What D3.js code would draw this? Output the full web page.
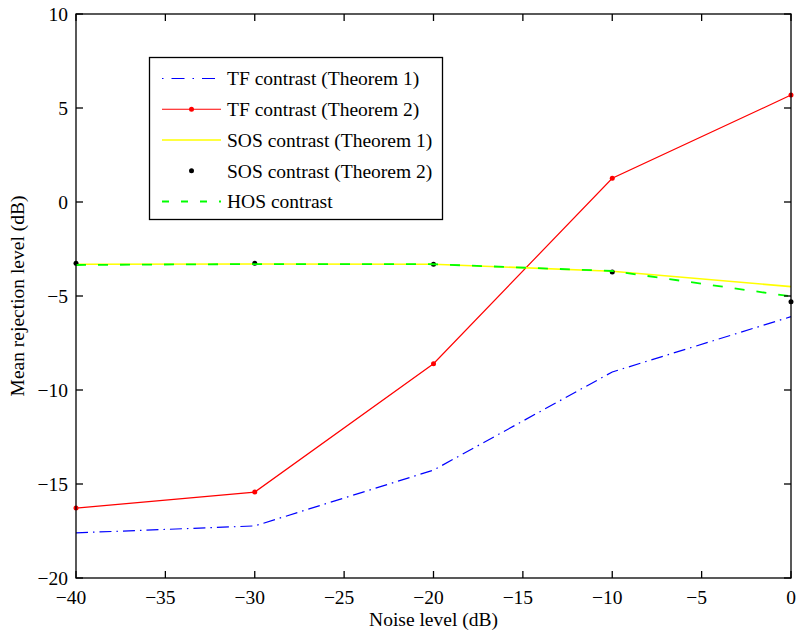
<!DOCTYPE html>
<html>
<head>
<meta charset="utf-8">
<script src="https://cdn.jsdelivr.net/npm/d3@7"></script>
<style>
  body { margin: 0; background: #fff; }
  text { font-family: "Liberation Serif", "Times New Roman", serif; fill: #000; }
</style>
</head>
<body>
<div id="container"></div>
<script>
/* CONSTANTS AND GLOBALS */
const width = 797;
const height = 640;
const margin = { left: 76, right: 6, top: 14, bottom: 62 };
const fontSize = 19.5;

/* DATA */
const noiseLevels = [-40, -30, -20, -10, 0];
const tfTheorem1 = [-17.6, -17.23, -14.26, -9.04, -6.1];
const tfTheorem2 = [-16.28, -15.43, -8.6, 1.26, 5.69];
const sosTheorem1 = [-3.31, -3.3, -3.31, -3.68, -4.5];
const sosTheorem2 = [-3.26, -3.26, -3.31, -3.72, -5.3];
const hosContrast = [-3.35, -3.3, -3.31, -3.67, -5.02];

const xTicks = [-40, -35, -30, -25, -20, -15, -10, -5, 0];
const yTicks = [-20, -15, -10, -5, 0, 5, 10];
const legendLabels = ["TF contrast (Theorem 1)", "TF contrast (Theorem 2)", "SOS contrast (Theorem 1)", "SOS contrast (Theorem 2)", "HOS contrast"];

const fmt = d => d < 0 ? "\u2212" + Math.abs(d) : String(d);

/* SCALES */
const xScale = d3.scaleLinear()
  .domain([-40, 0])
  .range([margin.left, width - margin.right]);

const yScale = d3.scaleLinear()
  .domain([-20, 10])
  .range([height - margin.bottom, margin.top]);

/* SVG */
const svg = d3.select("#container")
  .append("svg")
  .attr("width", width)
  .attr("height", height);

// series definitions (styles)
const series = [
  { values: tfTheorem1, color: "#0000ff", dash: "12,5,1.5,5", width: 1.2, line: true, dots: false },
  { values: tfTheorem2, color: "#ff0000", dash: null, width: 1.2, line: true, dots: true },
  { values: sosTheorem1, color: "#ffff00", dash: null, width: 1.6, line: true, dots: false },
  { values: sosTheorem2, color: "#000000", dash: null, width: 0, line: false, dots: true },
  { values: hosContrast, color: "#00ff00", dash: "10,12", width: 1.8, line: true, dots: false }
];

const lineGen = d3.line()
  .x(d => xScale(d[0]))
  .y(d => yScale(d[1]));

series.forEach(s => {
  const pts = noiseLevels.map((x, i) => [x, s.values[i]]);
  if (s.line) {
    svg.append("path")
      .datum(pts)
      .attr("d", lineGen)
      .attr("fill", "none")
      .attr("stroke", s.color)
      .attr("stroke-width", s.width)
      .attr("stroke-dasharray", s.dash);
  }
  if (s.dots) {
    svg.selectAll(null)
      .data(pts)
      .join("circle")
      .attr("cx", d => xScale(d[0]))
      .attr("cy", d => yScale(d[1]))
      .attr("r", 2.5)
      .attr("fill", s.color);
  }
});

/* AXES (box with inward ticks) */
const x0 = xScale.range()[0], x1 = xScale.range()[1];
const y0 = yScale.range()[0], y1 = yScale.range()[1];
const tickLen = 7;

const axes = svg.append("g").attr("stroke", "#000").attr("stroke-width", 1.3);
axes.append("rect")
  .attr("x", x0).attr("y", y1)
  .attr("width", x1 - x0).attr("height", y0 - y1)
  .attr("fill", "none");

xTicks.forEach(t => {
  axes.append("line").attr("x1", xScale(t)).attr("x2", xScale(t)).attr("y1", y0).attr("y2", y0 - tickLen);
  axes.append("line").attr("x1", xScale(t)).attr("x2", xScale(t)).attr("y1", y1).attr("y2", y1 + tickLen);
});
yTicks.forEach(t => {
  axes.append("line").attr("x1", x0).attr("x2", x0 + tickLen).attr("y1", yScale(t)).attr("y2", yScale(t));
  axes.append("line").attr("x1", x1).attr("x2", x1 - tickLen).attr("y1", yScale(t)).attr("y2", yScale(t));
});

// tick labels
svg.selectAll(".xlabel")
  .data(xTicks)
  .join("text")
  .attr("class", "xlabel")
  .attr("x", d => xScale(d) + (d < 0 ? -5 : 0))
  .attr("y", y0 + 26)
  .attr("text-anchor", "middle")
  .style("font-size", fontSize + "px")
  .text(fmt);

svg.selectAll(".ylabel")
  .data(yTicks)
  .join("text")
  .attr("class", "ylabel")
  .attr("x", x0 - 8)
  .attr("y", d => yScale(d))
  .attr("dy", "0.35em")
  .attr("text-anchor", "end")
  .style("font-size", fontSize + "px")
  .text(fmt);

// axis titles
svg.append("text")
  .attr("x", (x0 + x1) / 2)
  .attr("y", 626)
  .attr("text-anchor", "middle")
  .style("font-size", fontSize + "px")
  .text("Noise level (dB)");

svg.append("text")
  .attr("transform", `translate(24, ${(y0 + y1) / 2}) rotate(-90)`)
  .attr("text-anchor", "middle")
  .style("font-size", fontSize + "px")
  .text("Mean rejection level (dB)");

/* LEGEND */
const legend = svg.append("g");
legend.append("rect")
  .attr("x", 149.5).attr("y", 57.5)
  .attr("width", 293).attr("height", 162)
  .attr("fill", "#fff")
  .attr("stroke", "#000")
  .attr("stroke-width", 1.3);

const rowY = d3.scaleLinear().domain([0, 4]).range([78.5, 201.5]);

series.forEach((s, i) => {
  const y = rowY(i);
  if (s.line) {
    legend.append("line")
      .attr("x1", 162).attr("x2", 221)
      .attr("y1", y).attr("y2", y)
      .attr("stroke", s.color)
      .attr("stroke-width", s.width)
      .attr("stroke-dasharray", s.dash ? (i === 0 ? "1.5,8,13,8" : "7,12") : null);
  }
  if (s.dots) {
    legend.append("circle")
      .attr("cx", 191.5).attr("cy", y)
      .attr("r", 2.5)
      .attr("fill", s.color);
  }
  legend.append("text")
    .attr("x", 227)
    .attr("y", y)
    .attr("dy", "0.35em")
    .style("font-size", fontSize + "px")
    .text(legendLabels[i]);
});
</script>
</body>
</html>
